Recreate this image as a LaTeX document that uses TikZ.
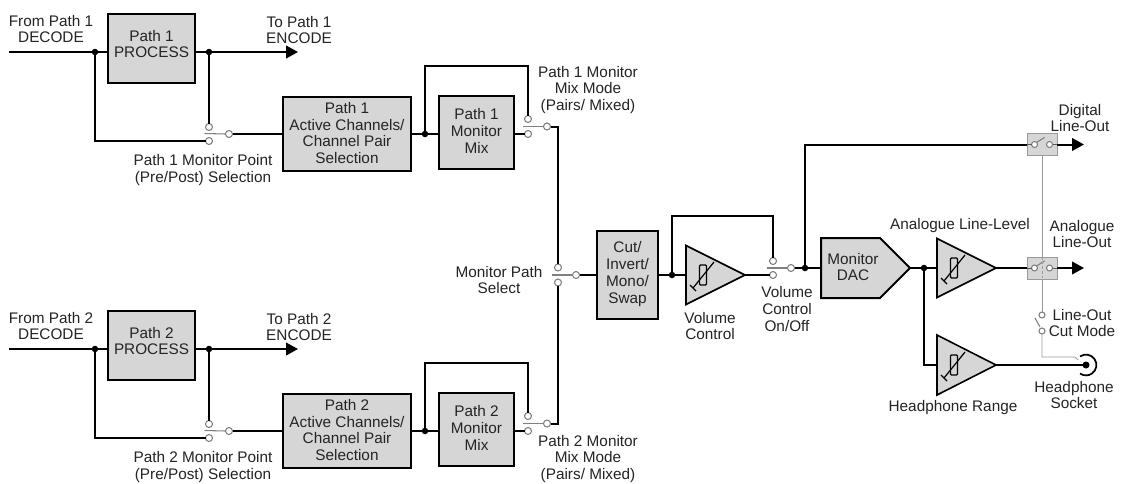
\documentclass[tikz,border=0pt]{standalone}
\usepackage{fontspec}
\setmainfont{Liberation Sans}
\usetikzlibrary{arrows.meta}
\begin{document}
\begin{tikzpicture}[x=0.75pt,y=-0.75pt,
  every node/.style={inner sep=0pt,outer sep=0pt},
  wire/.style={line width=1.5pt,draw=black},
  lbl/.style={align=center,text=black!86,font=\fontsize{11.5}{12.6}\selectfont},
  box/.style 2 args={rectangle,draw=black,line width=1.5pt,fill=black!16,minimum width=#1*0.75pt,minimum height=#2*0.75pt},
  ampshape/.style={draw=black,line width=1.2pt,fill=black!16,line join=miter},
  contact/.style={circle,draw=black!50,fill=white,line width=0.8pt,minimum size=7*0.75pt},
  smallcontact/.style={contact,minimum size=6*0.75pt},
  blade/.style={draw=black!50,line width=0.8pt},
  jdot/.style={circle,fill=black,minimum size=6.5*0.75pt},
  arr/.style={-{Triangle[length=9pt,width=9.5pt]}},
  ctrl/.style={draw=black!40,line width=0.7pt},
  inner/.style={draw=black!65,line width=0.6pt},
  swbox/.style={rectangle,draw=black!40,fill=black!16,line width=0.7pt,minimum width=30*0.75pt,minimum height=22*0.75pt},
  varres/.pic={
    \draw[line width=0.9pt,rounded corners=0.8pt] (-3.5,-10) rectangle (3.5,10);
    \draw[line width=0.9pt] (-10,13) -- (11,-13);
    \draw[line width=0.9pt] (-13,10) -- (-7,16);
  }
]
\fill[white] (0,0) rectangle (1121,483);
\useasboundingbox (0,0) rectangle (1121,483);

% ---------------- Paths 1 and 2 ----------------
\foreach \n/\dy in {1/0,2/297}{
\begin{scope}[shift={(0,\dy)}]
  \coordinate (in\n) at (9,52);
  \node[jdot] (da\n) at (95,52) {};
  \node[box={87}{69}] (proc\n) at (151.5,48.5) {};
  \node[lbl] (proct\n) at (151.5,44) {Path \n\\PROCESS};
  \node[jdot] (db\n) at (209,52) {};
  \coordinate (enc\n) at (298,52);
  \node[lbl] (from\n) at (51,29) {From Path \n\\DECODE};
  \node[lbl] (to\n) at (299,30) {To Path \n\\ENCODE};
  \node[contact] (ua\n) at (209,127) {};
  \node[contact] (la\n) at (209,141) {};
  \node[contact] (ca\n) at (229,134) {};
  \node[lbl] (mp\n) at (203,170) {Path \n{} Monitor Point\\(Pre/Post) Selection};
  \node[box={128}{74}] (act\n) at (347,134) {};
  \node[lbl] (actt\n) at (347,133) {Path \n\\Active Channels/\\Channel Pair\\Selection};
  \node[jdot] (dc\n) at (425,134) {};
  \node[box={75}{73}] (mix\n) at (476.5,132.5) {};
  \node[lbl] (mixt\n) at (476.5,131) {Path \n\\Monitor\\Mix};
  \coordinate (lt\n) at (528,66);
  \node[contact] (ub\n) at (528,119) {};
  \node[contact] (lb\n) at (528,134) {};
  \node[contact] (cb\n) at (547,126.5) {};
  \draw[wire] (in\n) -- (da\n) -- (proc\n.west |- da\n);
  \draw[wire,arr] (proc\n.east |- db\n) -- (db\n) -- (enc\n);
  \draw[wire] (da\n) |- (la\n.west);
  \draw[wire] (db\n) -- (ua\n.north);
  \draw[blade] (ca\n.west) -- ++(-21,-0.5);
  \draw[wire] (ca\n.east) -- (act\n.west |- ca\n);
  \draw[wire] (act\n.east |- dc\n) -- (dc\n) -- (mix\n.west |- dc\n);
  \draw[wire] (dc\n) |- (lt\n) -- (ub\n.north);
  \draw[wire] (mix\n.east |- lb\n) -- (lb\n.west);
  \draw[blade] (cb\n.west) -- ++(-21,0);
\end{scope}
}
\node[lbl] (mm1) at (588,90) {Path 1 Monitor\\Mix Mode\\(Pairs/ Mixed)};
\node[lbl] (mm2) at (588,459) {Path 2 Monitor\\Mix Mode\\(Pairs/ Mixed)};

% ---------------- Monitor path select ----------------
\node[contact] (us) at (558,267.5) {};
\node[contact] (ls) at (558,282.5) {};
\node[contact] (cs) at (576,275) {};
\draw[wire] (cb1.east) -| (us.north);
\draw[wire] (cb2.east) -| (ls.south);
\draw[blade] (cs.west) -- ++(-21,0);
\node[lbl] (mps) at (499,280) {Monitor Path\\Select};

\node[box={61}{88}] (cut) at (627.5,275) {};
\node[lbl] (cutt) at (627.5,274) {Cut/\\Invert/\\Mono/\\Swap};
\draw[wire] (cs.east) -- (cut.west |- cs);

% ---------------- Volume control ----------------
\node[jdot] (dd) at (672,275) {};
\draw[ampshape] (686,245.5) -- (745,275) -- (686,304.5) -- cycle;
\coordinate (a1in) at (686,275);
\coordinate (a1out) at (745,275);
\pic at (703,275) {varres};
\draw[wire] (cut.east |- dd) -- (dd) -- (a1in);
\coordinate (vt) at (773,216);
\node[contact] (uv) at (773,261) {};
\node[contact] (lv) at (773,275) {};
\node[contact] (cv) at (791,268) {};
\draw[wire] (dd) |- (vt) -- (uv.north);
\draw[wire] (a1out) -- (lv.west);
\draw[blade] (cv.west) -- ++(-21,0);
\node[lbl] (vc) at (710,326) {Volume\\Control};
\node[lbl] (vco) at (787,309) {Volume\\Control\\On/Off};

% ---------------- DAC ----------------
\node[jdot] (de) at (805,268) {};
\draw[ampshape,line width=1.5pt] (821,238) -- (880,238) -- (910,268) -- (880,298) -- (821,298) -- cycle;
\coordinate (dacin) at (821,268);
\coordinate (dacout) at (910,268);
\node[lbl] (dact) at (853,267) {Monitor\\DAC};
\draw[wire] (cv.east) -- (de) -- (dacin);

% ---------------- Digital line out ----------------
\node[swbox] (dsw) at (1042,144.5) {};
\draw[wire] (de) |- (dsw.west);
\node[smallcontact] (dk1) at (1034.5,144.5) {};
\node[smallcontact] (dk2) at (1049.5,144.5) {};
\draw[inner] (dsw.west) -- (dk1.west);
\draw[inner] (dk2.east) -- (dsw.east);
\draw[blade] (dk1.north east) -- ++(8,-5);
\coordinate (dout) at (1084,144.5);
\draw[wire,arr] (dsw.east) -- (dout);
\node[lbl] (dlo) at (1080,118) {Digital\\Line-Out};

% ---------------- Analogue line level ----------------
\node[jdot] (df) at (924,268) {};
\draw[ampshape] (937,238.5) -- (996,268) -- (937,297.5) -- cycle;
\coordinate (a2in) at (937,268);
\coordinate (a2out) at (996,268);
\pic at (954,268) {varres};
\draw[wire] (dacout) -- (df) -- (a2in);
\node[lbl] (all) at (960,226) {Analogue Line-Level};

\node[swbox] (asw) at (1042,268) {};
\draw[wire] (a2out) -- (asw.west);
\node[smallcontact] (ak1) at (1034.5,268) {};
\node[smallcontact] (ak2) at (1049.5,268) {};
\draw[inner] (asw.west) -- (ak1.west);
\draw[inner] (ak2.east) -- (asw.east);
\draw[blade] (ak1.north east) -- ++(8,-5);
\coordinate (aout) at (1084,268);
\draw[wire,arr] (asw.east) -- (aout);
\node[lbl] (alo) at (1082,234) {Analogue\\Line-Out};

% ---------------- Control line / cut mode ----------------
\node[smallcontact] (uc) at (1042,315) {};
\node[smallcontact] (lc) at (1042,331) {};
\draw[ctrl] (dsw.south) -- (asw.north);
\draw[ctrl,dash pattern=on 2pt off 1.5pt] (asw.north) -- (asw.south);
\draw[ctrl] (asw.south) -- (uc.north);
\draw[blade] ([shift={(-7,3)}]uc.center) -- ([shift={(-2,-4)}]lc.center);
\coordinate (sockc) at (1075,357);
\draw[ctrl] (lc.south) |- (sockc) -- ++(3,3);
\node[lbl] (lo) at (1082,323) {Line-Out\\Cut Mode};

% ---------------- Headphone ----------------
\draw[ampshape] (937,335) -- (996,365) -- (937,395) -- cycle;
\coordinate (a3in) at (937,365);
\coordinate (a3out) at (996,365);
\pic at (954,365) {varres};
\draw[wire] (df) |- (a3in);
\node[jdot,minimum size=7*0.75pt] (sock) at (1086,365) {};
\draw[wire] (a3out) -- (sock);
\draw[line width=1.3pt] ([shift={(125:7.8pt)}]sock.center) arc[start angle=125,end angle=-125,radius=7.8pt];
\node[lbl] (hr) at (953,408) {Headphone Range};
\node[lbl] (hs) at (1074,395) {Headphone\\Socket};
\end{tikzpicture}
\end{document}
